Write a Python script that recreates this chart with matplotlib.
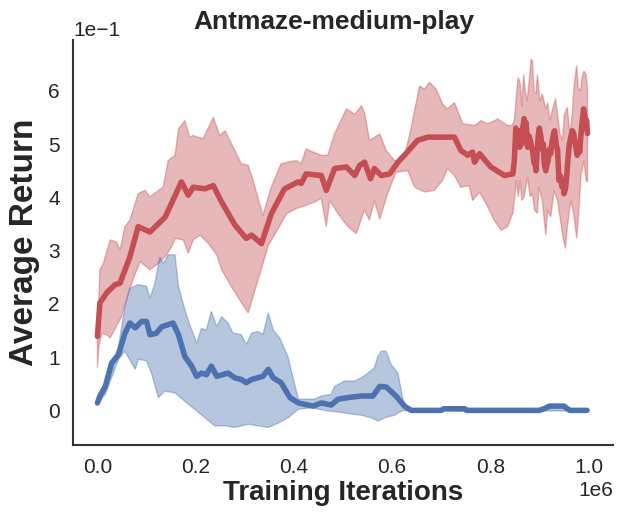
import numpy as np
import matplotlib
matplotlib.use("Agg")
import matplotlib.pyplot as plt
import seaborn as sns

sns.set_theme(style="white")
plt.rcParams['font.family'] = ['Liberation Sans', 'DejaVu Sans']

# ---- data (x in training iterations / 1e6, y in return) ----
red_mean_x = [0.0, 0.005, 0.020, 0.036, 0.046, 0.066, 0.083, 0.095, 0.107, 0.138, 0.171, 0.185, 0.195,
              0.219, 0.236, 0.253, 0.280, 0.303, 0.314, 0.334, 0.354, 0.381, 0.409, 0.415, 0.425,
              0.456, 0.466, 0.483, 0.507, 0.524, 0.534, 0.544, 0.556, 0.564, 0.578, 0.595, 0.612,
              0.625, 0.652, 0.673, 0.700, 0.727, 0.740, 0.754, 0.764, 0.768, 0.778, 0.801, 0.829,
              0.846,
              0.849, 0.852, 0.855, 0.858, 0.860, 0.862, 0.864, 0.866, 0.869, 0.871, 0.873, 0.876,
              0.879, 0.882, 0.884, 0.886, 0.889, 0.891, 0.893, 0.895, 0.898, 0.900, 0.903, 0.906,
              0.908, 0.910, 0.913, 0.915, 0.918, 0.920, 0.923, 0.926, 0.929, 0.931, 0.934, 0.937,
              0.940, 0.943, 0.946, 0.948, 0.950, 0.953, 0.955, 0.958, 0.961, 0.964, 0.967, 0.970,
              0.973, 0.975, 0.977, 0.980, 0.982, 0.984, 0.987, 0.990, 0.992, 0.994, 0.996, 0.998]
red_mean_y = [0.139, 0.202, 0.222, 0.236, 0.239, 0.288, 0.345, 0.340, 0.335, 0.363, 0.429, 0.404, 0.419,
              0.416, 0.422, 0.391, 0.348, 0.323, 0.329, 0.313, 0.369, 0.416, 0.429, 0.426, 0.444,
              0.441, 0.413, 0.454, 0.457, 0.441, 0.460, 0.466, 0.435, 0.454, 0.441, 0.444, 0.466,
              0.479, 0.507, 0.513, 0.513, 0.513, 0.488, 0.479, 0.485, 0.466, 0.482, 0.457, 0.441,
              0.444,
              0.469, 0.530, 0.505, 0.525, 0.494, 0.515, 0.500, 0.530, 0.548, 0.520, 0.540, 0.494,
              0.515, 0.505, 0.495, 0.488, 0.465, 0.470, 0.450, 0.480, 0.519, 0.530, 0.513, 0.490,
              0.500, 0.463, 0.450, 0.460, 0.470, 0.490, 0.482, 0.505, 0.520, 0.525, 0.500, 0.488,
              0.432, 0.440, 0.420, 0.430, 0.407, 0.415, 0.432, 0.470, 0.500, 0.513, 0.525, 0.519,
              0.500, 0.490, 0.479, 0.495, 0.485, 0.510, 0.540, 0.566, 0.555, 0.530, 0.545, 0.520]

red_up_x = [0.0, 0.005, 0.012, 0.026, 0.039, 0.046, 0.056, 0.066, 0.083, 0.097, 0.107, 0.120, 0.134,
            0.144, 0.158, 0.165, 0.178, 0.188, 0.195, 0.215, 0.236, 0.249, 0.260, 0.293, 0.307,
            0.317, 0.337, 0.354, 0.374, 0.388, 0.405, 0.415, 0.425, 0.439, 0.456, 0.469, 0.483,
            0.507, 0.524, 0.538, 0.544, 0.554, 0.575, 0.588, 0.605, 0.625, 0.639, 0.656, 0.666,
            0.676, 0.690, 0.703, 0.713, 0.727, 0.744, 0.768, 0.781, 0.795, 0.815, 0.835, 0.845,
            0.849, 0.855, 0.857, 0.861, 0.864, 0.868, 0.871, 0.875, 0.880, 0.883, 0.886, 0.889,
            0.893, 0.896, 0.901, 0.906, 0.913, 0.917, 0.921, 0.928, 0.933, 0.937, 0.942, 0.947,
            0.951, 0.957, 0.962, 0.967, 0.971, 0.976, 0.979, 0.984, 0.987, 0.991, 0.995, 0.998]
red_up_y = [0.139, 0.264, 0.276, 0.320, 0.316, 0.301, 0.345, 0.357, 0.407, 0.413, 0.401, 0.410, 0.419,
            0.469, 0.479, 0.528, 0.544, 0.513, 0.516, 0.510, 0.550, 0.516, 0.525, 0.463, 0.460,
            0.432, 0.366, 0.419, 0.463, 0.466, 0.469, 0.463, 0.491, 0.485, 0.479, 0.479, 0.519,
            0.566, 0.556, 0.572, 0.559, 0.507, 0.519, 0.488, 0.469, 0.475, 0.531, 0.609, 0.603,
            0.616, 0.603, 0.575, 0.566, 0.578, 0.538, 0.535, 0.544, 0.538, 0.547, 0.535, 0.535,
            0.544, 0.609, 0.625, 0.613, 0.571, 0.631, 0.600, 0.581, 0.625, 0.659, 0.656, 0.600,
            0.594, 0.631, 0.581, 0.594, 0.566, 0.578, 0.544, 0.569, 0.585, 0.556, 0.519, 0.507,
            0.556, 0.569, 0.519, 0.556, 0.613, 0.647, 0.606, 0.600, 0.625, 0.637, 0.631, 0.606]

red_lo_x = [0.0, 0.003, 0.009, 0.019, 0.026, 0.049, 0.063, 0.077, 0.087, 0.107, 0.124, 0.141, 0.151,
            0.158, 0.175, 0.185, 0.195, 0.209, 0.226, 0.243, 0.253, 0.273, 0.290, 0.307, 0.317,
            0.331, 0.348, 0.368, 0.385, 0.405, 0.425, 0.442, 0.456, 0.466, 0.473, 0.490, 0.510,
            0.527, 0.544, 0.554, 0.564, 0.575, 0.591, 0.608, 0.632, 0.646, 0.666, 0.686, 0.703,
            0.713, 0.727, 0.740, 0.757, 0.764, 0.778, 0.795, 0.808, 0.822, 0.835, 0.846, 0.849,
            0.853, 0.857, 0.861, 0.864, 0.869, 0.876, 0.881, 0.886, 0.890, 0.896, 0.899, 0.906,
            0.913, 0.917, 0.923, 0.930, 0.937, 0.943, 0.948, 0.953, 0.957, 0.964, 0.970, 0.976,
            0.980, 0.985, 0.991, 0.995, 0.998]
red_lo_y = [0.080, 0.120, 0.145, 0.142, 0.136, 0.176, 0.220, 0.257, 0.279, 0.264, 0.276, 0.292, 0.307,
            0.323, 0.320, 0.295, 0.320, 0.329, 0.313, 0.292, 0.264, 0.232, 0.207, 0.183, 0.214,
            0.257, 0.310, 0.341, 0.369, 0.379, 0.385, 0.391, 0.398, 0.345, 0.394, 0.369, 0.345,
            0.332, 0.376, 0.357, 0.394, 0.359, 0.407, 0.447, 0.450, 0.419, 0.410, 0.413, 0.432,
            0.454, 0.441, 0.419, 0.422, 0.394, 0.410, 0.382, 0.357, 0.338, 0.345, 0.370, 0.394,
            0.432, 0.401, 0.432, 0.394, 0.401, 0.438, 0.401, 0.407, 0.376, 0.370, 0.419, 0.394,
            0.329, 0.376, 0.363, 0.413, 0.394, 0.357, 0.326, 0.304, 0.345, 0.394, 0.369, 0.323,
            0.369, 0.444, 0.469, 0.432, 0.429]

blue_mean_x = [0.0, 0.005, 0.016, 0.029, 0.043, 0.056, 0.066, 0.077, 0.090, 0.100, 0.107, 0.120, 0.131,
               0.154, 0.165, 0.178, 0.192, 0.202, 0.212, 0.222, 0.232, 0.243, 0.266, 0.280, 0.293,
               0.303, 0.314, 0.337, 0.348, 0.358, 0.374, 0.392, 0.409, 0.439, 0.456, 0.476, 0.490,
               0.510, 0.537, 0.561, 0.575, 0.588, 0.608, 0.625, 0.639, 0.700, 0.705, 0.748, 0.752,
               0.900, 0.912, 0.920, 0.950, 0.962, 0.997]
blue_mean_y = [0.014, 0.027, 0.045, 0.089, 0.105, 0.145, 0.164, 0.155, 0.167, 0.167, 0.142, 0.145, 0.157,
               0.164, 0.142, 0.101, 0.083, 0.064, 0.070, 0.067, 0.083, 0.064, 0.070, 0.061, 0.058,
               0.052, 0.058, 0.064, 0.077, 0.061, 0.052, 0.024, 0.014, 0.008, 0.014, 0.010, 0.021,
               0.024, 0.027, 0.027, 0.045, 0.044, 0.027, 0.008, 0.0, 0.0, 0.003, 0.003, 0.0,
               0.0, 0.004, 0.008, 0.008, 0.0, 0.0]

blue_up_x = [0.0, 0.016, 0.043, 0.056, 0.066, 0.083, 0.100, 0.107, 0.117, 0.127, 0.134, 0.144, 0.158,
             0.165, 0.178, 0.188, 0.202, 0.212, 0.222, 0.232, 0.243, 0.253, 0.266, 0.276, 0.293,
             0.303, 0.314, 0.327, 0.337, 0.348, 0.358, 0.371, 0.388, 0.409, 0.442, 0.456, 0.476,
             0.483, 0.503, 0.524, 0.537, 0.551, 0.564, 0.571, 0.578, 0.588, 0.598, 0.612, 0.622,
             0.632, 0.997]
blue_up_y = [0.014, 0.050, 0.120, 0.195, 0.229, 0.236, 0.233, 0.211, 0.238, 0.288, 0.276, 0.292, 0.292,
             0.233, 0.189, 0.161, 0.127, 0.154, 0.151, 0.186, 0.157, 0.176, 0.164, 0.145, 0.142,
             0.124, 0.145, 0.148, 0.142, 0.183, 0.151, 0.136, 0.101, 0.021, 0.021, 0.027, 0.030,
             0.045, 0.055, 0.055, 0.061, 0.070, 0.080, 0.101, 0.111, 0.111, 0.086, 0.070, 0.021,
             0.001, 0.001]

blue_lo_x = [0.0, 0.016, 0.043, 0.056, 0.077, 0.083, 0.100, 0.110, 0.124, 0.137, 0.158, 0.178, 0.198,
             0.219, 0.239, 0.260, 0.280, 0.307, 0.327, 0.348, 0.368, 0.388, 0.409, 0.436, 0.469,
             0.490, 0.510, 0.537, 0.558, 0.571, 0.585, 0.605, 0.622, 0.632, 0.997]
blue_lo_y = [0.011, 0.030, 0.096, 0.111, 0.077, 0.096, 0.093, 0.070, 0.024, 0.036, 0.033, 0.017, 0.002,
             -0.014, -0.029, -0.029, -0.032, -0.026, -0.029, -0.032, -0.024, -0.014, 0.002, 0.005, -0.001,
             -0.003, -0.006, -0.009, -0.014, -0.020, -0.014, -0.009, 0.0, -0.001, -0.001]

title = "Antmaze-medium-play"
xlabel = "Training Iterations"
ylabel = "Average Return"

RED = "#C44E52"
BLUE = "#4C72B0"

fig = plt.figure(figsize=(6.23, 5.22), dpi=100)
ax = fig.add_axes([0.117, 0.1475, 0.867, 0.7755])

def band(x_up, y_up, x_lo, y_lo, color):
    xs = np.concatenate([np.array(x_up), np.array(x_lo)[::-1]]) * 1e6
    ys = np.concatenate([np.array(y_up), np.array(y_lo)[::-1]])
    ax.fill(xs, ys, facecolor=color, alpha=0.4, edgecolor=color, linewidth=1.0)

band(red_up_x, red_up_y, red_lo_x, red_lo_y, RED)
band(blue_up_x, blue_up_y, blue_lo_x, blue_lo_y, BLUE)
ax.plot(np.array(red_mean_x) * 1e6, red_mean_y, color=RED, lw=4)
ax.plot(np.array(blue_mean_x) * 1e6, blue_mean_y, color=BLUE, lw=4)

ax.set_xlim(-0.05e6, 1.05e6)
ax.set_ylim(-0.065, 0.695)
ax.ticklabel_format(style='sci', axis='both', scilimits=(0, 0))
ax.set_xticks([0, 0.2e6, 0.4e6, 0.6e6, 0.8e6, 1.0e6])
ax.set_yticks([0, 0.1, 0.2, 0.3, 0.4, 0.5, 0.6])
ax.tick_params(labelsize=15)
ax.xaxis.get_offset_text().set_fontsize(15)
ax.yaxis.get_offset_text().set_fontsize(15)

for s in ['top', 'right']:
    ax.spines[s].set_visible(False)
for s in ['left', 'bottom']:
    ax.spines[s].set_color('#333333')
    ax.spines[s].set_linewidth(1.5)

ax.set_title(title, fontsize=19, fontweight='bold', pad=8, x=0.484)
ax.set_xlabel(xlabel, fontsize=20, fontweight='bold', labelpad=2)
ax.set_ylabel(ylabel, fontsize=24, fontweight='bold', labelpad=6)

fig.savefig("out.png", dpi=100)
